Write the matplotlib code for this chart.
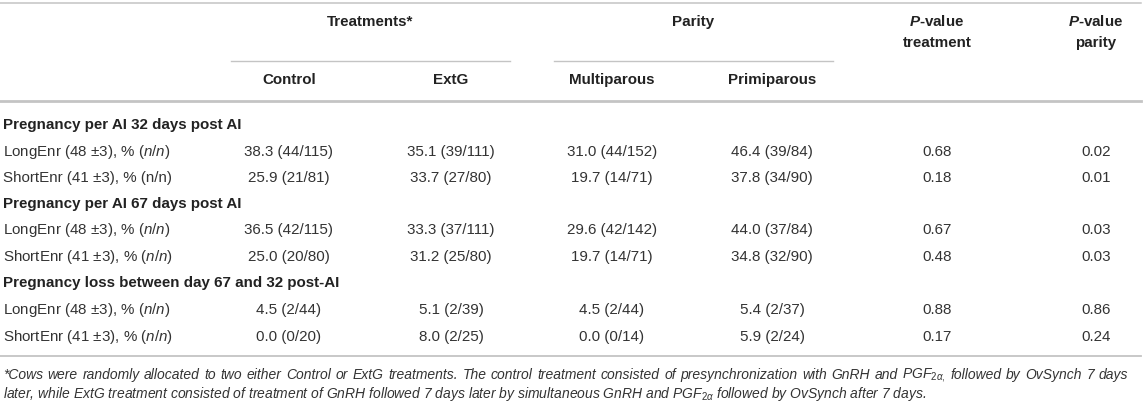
import matplotlib
matplotlib.use("Agg")
import matplotlib.pyplot as plt

plt.rcParams['font.family'] = ['Liberation Sans', 'DejaVu Sans']
plt.rcParams['mathtext.fontset'] = 'custom'
plt.rcParams['mathtext.rm'] = 'Liberation Sans'
plt.rcParams['mathtext.it'] = 'Liberation Sans:italic'
plt.rcParams['mathtext.bf'] = 'Liberation Sans:bold'
plt.rcParams['mathtext.bfit'] = 'Liberation Sans:italic:bold'

# table content
group_heads = ["Treatments*", "Parity"]
col_heads = ["Control", "ExtG", "Multiparous", "Primiparous"]
p_heads = ["$\\mathbfit{P}$-value\ntreatment", "$\\mathbfit{P}$-value\nparity"]
sections = ["Pregnancy per AI 32 days post AI",
            "Pregnancy per AI 67 days post AI",
            "Pregnancy loss between day 67 and 32 post-AI"]
row_labels = ["LongEnr (48 \u00b13), % ($\\mathit{n/n}$)", "ShortEnr (41 \u00b13), % (n/n)",
              "LongEnr (48 \u00b13), % ($\\mathit{n/n}$)", "ShortEnr (41 \u00b13), % ($\\mathit{n/n}$)",
              "LongEnr (48 \u00b13), % ($\\mathit{n/n}$)", "ShortEnr (41 \u00b13), % ($\\mathit{n/n}$)"]

control_pct = [38.3, 25.9, 36.5, 25.0, 4.5, 0.0]
control_n = [(44, 115), (21, 81), (42, 115), (20, 80), (2, 44), (0, 20)]
extg_pct = [35.1, 33.7, 33.3, 31.2, 5.1, 8.0]
extg_n = [(39, 111), (27, 80), (37, 111), (25, 80), (2, 39), (2, 25)]
multi_pct = [31.0, 19.7, 29.6, 19.7, 4.5, 0.0]
multi_n = [(44, 152), (14, 71), (42, 142), (14, 71), (2, 44), (0, 14)]
primi_pct = [46.4, 37.8, 44.0, 34.8, 5.4, 5.9]
primi_n = [(39, 84), (34, 90), (37, 84), (32, 90), (2, 37), (2, 24)]
p_treatment = [0.68, 0.18, 0.67, 0.48, 0.88, 0.17]
p_parity = [0.02, 0.01, 0.03, 0.03, 0.86, 0.24]

footnote = ["*Cows were randomly allocated to two either Control or ExtG treatments. The control treatment "
            "consisted of presynchronization with GnRH and PGF$_{2\\alpha,}$ followed by OvSynch 7 days",
            "later, while ExtG treatment consisted of treatment of GnRH followed 7 days later by simultaneous "
            "GnRH and PGF$_{2\\alpha}$ followed by OvSynch after 7 days."]

W, H = 1143, 404
fig = plt.figure(figsize=(W / 100, H / 100), dpi=100)
ax = fig.add_axes([0, 0, 1, 1])
ax.set_xlim(0, W)
ax.set_ylim(H, 0)
ax.axis('off')

txt = '#222222'
body = '#333333'
lc = '#c4c4c4'
fs = 10.9

col_x = [289, 451, 612, 772]
p_x = [937, 1096]

# rules
ax.plot([0, 1141], [3, 3], color=lc, lw=1.1)
ax.plot([231, 510], [61, 61], color=lc, lw=1.0)
ax.plot([554, 833], [61, 61], color=lc, lw=1.0)
ax.plot([0, 1141], [101, 101], color=lc, lw=2.0)
ax.plot([0, 1141], [356, 356], color=lc, lw=1.3)

# header
ax.text((231 + 510) / 2, 22, group_heads[0], ha='center', va='center', fontsize=fs, fontweight='bold', color=txt)
ax.text((554 + 833) / 2, 22, group_heads[1], ha='center', va='center', fontsize=fs, fontweight='bold', color=txt)
for x, h in zip(col_x, col_heads):
    ax.text(x, 80, h, ha='center', va='center', fontsize=fs, fontweight='bold', color=txt)
for x, h in zip(p_x, p_heads):
    top, bot = h.split("\n")
    ax.text(x, 22, top, ha='center', va='center', fontsize=fs, fontweight='bold', color=txt)
    ax.text(x, 43, bot, ha='center', va='center', fontsize=fs, fontweight='bold', color=txt)

# body
sec_y = [125, 204, 283]
row_y = [152, 178, 230, 257, 310, 337]
for y, s in zip(sec_y, sections):
    ax.text(3, y, s, ha='left', va='center', fontsize=fs, fontweight='bold', color=txt)

cols = [(control_pct, control_n), (extg_pct, extg_n), (multi_pct, multi_n), (primi_pct, primi_n)]
for i, y in enumerate(row_y):
    ax.text(3, y, row_labels[i], ha='left', va='center', fontsize=fs, color=body)
    for x, (pct, n) in zip(col_x, cols):
        ax.text(x, y, f"{pct[i]:.1f} ({n[i][0]}/{n[i][1]})", ha='center', va='center',
                fontsize=fs, color=body)
    ax.text(p_x[0], y, f"{p_treatment[i]:.2f}", ha='center', va='center', fontsize=fs, color=body)
    ax.text(p_x[1], y, f"{p_parity[i]:.2f}", ha='center', va='center', fontsize=fs, color=body)

# footnote: first line justified to the table width, last line left aligned
fn_fs = 10.0
renderer = fig.canvas.get_renderer()
words = footnote[0].split(" ")
items = [ax.text(0, 375, w, ha='left', va='center', fontsize=fn_fs, style='italic', color=body)
         for w in words]
widths = [t.get_window_extent(renderer).width for t in items]
gap = (1128 - 3 - sum(widths)) / (len(words) - 1)
x = 3
for t, w in zip(items, widths):
    t.set_x(x)
    x += w + gap
ax.text(3, 394, footnote[1], ha='left', va='center', fontsize=fn_fs, style='italic', color=body)

fig.savefig("out.png", dpi=100)
